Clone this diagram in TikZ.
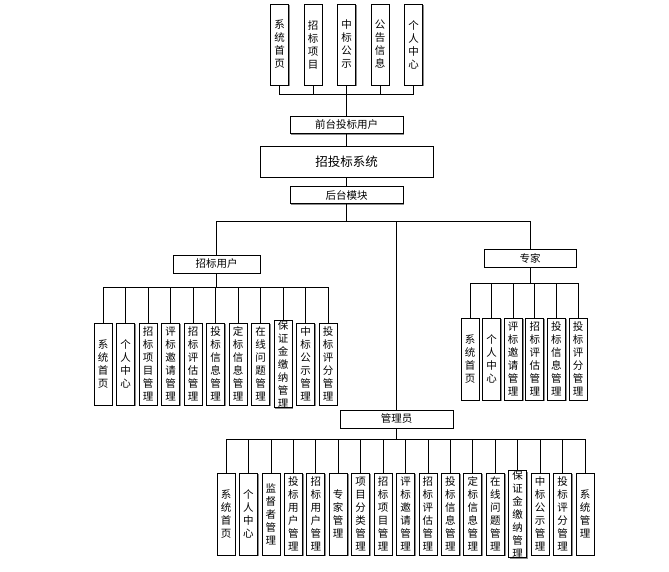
\documentclass[tikz,border=0pt]{standalone}
\usepackage{fontspec}
\newfontfamily\cjk{Noto Sans CJK SC}
\usetikzlibrary{shadows}
\tikzset{
 box/.style={draw=black, fill=white, line width=0.7pt, inner sep=0pt, align=center, drop shadow={shadow xshift=1.3pt, shadow yshift=-1.3pt, fill=black!45, opacity=1}},
 itembox/.style={box, minimum width=18pt, minimum height=82pt, font=\cjk\fontsize{10.5}{13}\selectfont},
 barbox/.style={box, minimum width=113pt, minimum height=17pt, font=\cjk\fontsize{10.5}{12}\selectfont},
 link/.style={draw=black, line width=0.7pt}
}
\begin{document}
\begin{tikzpicture}[x=1pt,y=-1pt]
\useasboundingbox (0,0) rectangle (669,572);
% front end
\foreach \t [count=\i from 0] in {{系\\统\\首\\页},{招\\标\\项\\目},{中\\标\\公\\示},{公\\告\\信\\息},{个\\人\\中\\心}}
  \node[itembox, minimum height=81pt] (t\i) at ({279.5+33.5*\i},44.5) {\t};
\node[barbox] (front) at (346.5,125) {前台投标用户};
\node[box, minimum width=173pt, minimum height=31pt, font=\cjk\fontsize{12.5}{14}\selectfont] (sys) at (346.5,161.5) {招投标系统};
\node[barbox] (back) at (346.5,195) {后台模块};
\coordinate (fbus) at (346.5,94);
\coordinate (bbus) at (346.5,221);
\foreach \i in {0,...,4} \draw[link] (fbus) -| (t\i.south);
\draw[link] (fbus) -- (front);
\draw[link] (front) -- (sys);
\draw[link] (sys) -- (back);
\draw[link] (back) -- (bbus);
% roles
\node[barbox, minimum width=87pt, minimum height=18pt] (user) at (216.5,264) {招标用户};
\node[barbox, minimum width=92pt, minimum height=18pt] (expert) at (530,258) {专家};
\node[barbox, minimum height=18pt] (admin) at (396.5,419) {管理员};
\draw[link] (bbus) -| (user);
\draw[link] (bbus) -| (expert);
\draw[link] (bbus) -| (admin);
% tender user
\coordinate (ubus) at (216.5,287);
\draw[link] (user) -- (ubus);
\foreach \t [count=\i from 0] in {{系\\统\\首\\页},{个\\人\\中\\心},{招\\标\\项\\目\\管\\理},{评\\标\\邀\\请\\管\\理},{招\\标\\评\\估\\管\\理},{投\\标\\信\\息\\管\\理},{定\\标\\信\\息\\管\\理},{在\\线\\问\\题\\管\\理},{保\\证\\金\\缴\\纳\\管\\理},{中\\标\\公\\示\\管\\理},{投\\标\\评\\分\\管\\理}}{
  \node[itembox] (u\i) at ({103+22.5*\i},364) {\t};
  \draw[link] (ubus) -| (u\i.north);
}
% expert
\coordinate (ebus) at (530,283);
\draw[link] (expert) -- (ebus);
\foreach \t [count=\i from 0] in {{系\\统\\首\\页},{个\\人\\中\\心},{评\\标\\邀\\请\\管\\理},{招\\标\\评\\估\\管\\理},{投\\标\\信\\息\\管\\理},{投\\标\\评\\分\\管\\理}}{
  \node[itembox] (e\i) at ({470+21.6*\i},359) {\t};
  \draw[link] (ebus) -| (e\i.north);
}
% admin
\coordinate (abus) at (396.5,439);
\draw[link] (admin) -- (abus);
\foreach \t [count=\i from 0] in {{系\\统\\首\\页},{个\\人\\中\\心},{监\\督\\者\\管\\理},{投\\标\\用\\户\\管\\理},{招\\标\\用\\户\\管\\理},{专\\家\\管\\理},{项\\目\\分\\类\\管\\理},{招\\标\\项\\目\\管\\理},{评\\标\\邀\\请\\管\\理},{招\\标\\评\\估\\管\\理},{投\\标\\信\\息\\管\\理},{定\\标\\信\\息\\管\\理},{在\\线\\问\\题\\管\\理},{保\\证\\金\\缴\\纳\\管\\理},{中\\标\\公\\示\\管\\理},{投\\标\\评\\分\\管\\理},{系\\统\\管\\理}}{
  \node[itembox] (a\i) at ({226+22.44*\i},514) {\t};
  \draw[link] (abus) -| (a\i.north);
}
\end{tikzpicture}
\end{document}
